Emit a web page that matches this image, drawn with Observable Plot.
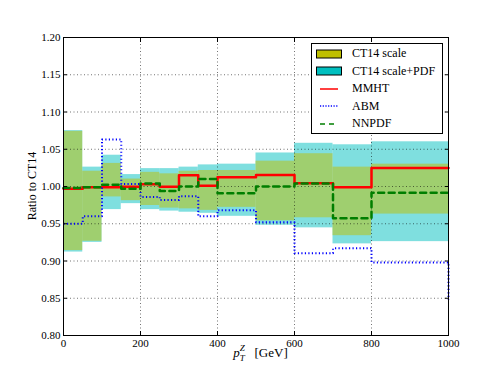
<!DOCTYPE html>
<html><head><meta charset="utf-8">
<script src="https://cdn.jsdelivr.net/npm/d3@7"></script>
<script src="https://cdn.jsdelivr.net/npm/@observablehq/plot@0.6"></script>
<style>
body{margin:0;background:#fff;}
#wrap{position:relative;width:498px;height:374px;font-family:"Liberation Serif","DejaVu Serif",serif;}
#wrap svg text, #wrap svg tspan{font-family:"Liberation Serif","DejaVu Serif",serif !important;}
#legend{position:absolute;left:311px;top:43px;width:132px;height:91px;border:1px solid #000;background:#fff;box-sizing:border-box;padding-top:1px;}
.row{height:17.5px;display:flex;align-items:center;font-size:12px;color:#000;}
.sw{width:26px;height:10px;margin-left:4px;margin-right:10px;display:flex;align-items:center;justify-content:center;}
</style></head>
<body>
<div id="wrap"><div id="legend"></div></div>
<script>
// bin edges (GeV)
const edges = [0,50,100,150,200,250,300,350,400,500,600,700,800,1000];
// CT14 scale band
const scaleLo = [0.914,0.9265,0.986,0.981,0.9745,0.971,0.970,0.968,0.972,0.954,0.958,0.934,0.963];
const scaleHi = [1.074,1.0205,1.031,1.010,1.019,1.017,1.0205,1.0215,1.0215,1.034,1.044,1.026,1.030];
// CT14 scale+PDF band
const pdfLo = [0.912,0.925,0.969,0.977,0.969,0.967,0.9655,0.964,0.960,0.948,0.9445,0.923,0.926];
const pdfHi = [1.075,1.026,1.042,1.016,1.024,1.024,1.026,1.029,1.030,1.045,1.058,1.056,1.060];
// ratios (one value per bin)
const mmht  = [0.997,0.999,0.999,0.9995,1.003,0.9995,1.015,1.001,1.0125,1.0155,1.0045,0.999,1.025];
const abm   = [0.950,0.960,1.063,1.0035,0.986,0.982,0.987,0.960,0.968,0.952,0.9105,0.917,0.898];
const nnpdf = [0.998,0.999,1.0025,0.997,1.004,0.994,1.000,1.010,0.991,1.000,1.004,0.9575,0.9915];
// value drawn at the last edge (x = 1000)
const mmhtEnd = 1.025, abmEnd = 0.848, nnpdfEnd = 0.9915;
// ticks
const xTicks = [0,200,400,600,800,1000];
const yTicks = [0.80,0.85,0.90,0.95,1.00,1.05,1.10,1.15,1.20];
const yGrid  = [0.85,0.90,0.95,1.00,1.05,1.10,1.15];
const xGrid  = [200,400,600,800];

const bins = scaleLo.map((_, i) => ({x1: edges[i], x2: edges[i+1], sLo: scaleLo[i], sHi: scaleHi[i], pLo: pdfLo[i], pHi: pdfHi[i]}));
const steps = (vals, end) => edges.map((e, i) => ({x: e, y: i < vals.length ? vals[i] : end}));

const plot = Plot.plot({
  width: 498, height: 374,
  marginLeft: 63, marginRight: 50, marginTop: 37, marginBottom: 39,
  x: {domain: [0, 1000]},
  y: {domain: [0.8, 1.2]},
  style: {fontFamily: '"Liberation Serif", serif', fontSize: "11px", color: "#000", background: "#fff"},
  marks: [
    Plot.rect(bins, {x1: "x1", x2: "x2", y1: "pLo", y2: "pHi", fill: "#00bfbf", fillOpacity: 0.5}),
    Plot.rect(bins, {x1: "x1", x2: "x2", y1: "sLo", y2: "sHi", fill: "#bfbf00", fillOpacity: 0.5}),
    Plot.gridX({ticks: xGrid, stroke: "#000", strokeOpacity: 0.55, strokeDasharray: "1,2.5"}),
    Plot.gridY({ticks: yGrid, stroke: "#000", strokeOpacity: 0.55, strokeDasharray: "1,2.5"}),
    Plot.line(steps(mmht, mmhtEnd), {x: "x", y: "y", curve: "step-after", stroke: "#ff0000", strokeWidth: 2.5}),
    Plot.line(steps(abm, abmEnd), {x: "x", y: "y", curve: "step-after", stroke: "#0000ff", strokeWidth: 2, strokeDasharray: "1.2,2.3", strokeLinecap: "butt"}),
    Plot.line(steps(nnpdf, nnpdfEnd), {x: "x", y: "y", curve: "step-after", stroke: "#007f00", strokeWidth: 2.5, strokeDasharray: "6,4.5"}),
    Plot.axisX({ticks: xTicks, tickSize: -4, tickPadding: 8, tickFormat: d3.format("d"), label: null, fontSize: 11}),
    Plot.axisX({anchor: "top", ticks: xTicks, tickSize: -4, tickFormat: () => "", label: null}),
    Plot.axisY({ticks: yTicks, tickSize: -4, tickPadding: 7, tickFormat: d3.format(".2f"), label: null, fontSize: 11}),
    Plot.axisY({anchor: "right", ticks: yTicks, tickSize: -4, tickFormat: () => "", label: null}),
    Plot.frame({stroke: "#000", strokeWidth: 1})
  ]
});
plot.setAttribute("font-family", '"Liberation Serif", serif');
document.getElementById("wrap").prepend(plot);

// axis labels
const svg = d3.select(plot);
const xr = plot.scale("x").range, yr = plot.scale("y").range;
const cx = (xr[0] + xr[1]) / 2, cy = (yr[0] + yr[1]) / 2;
const xl = svg.append("text").attr("x", cx).attr("y", 357).attr("text-anchor", "middle")
  .attr("font-size", 13).attr("fill", "#000").attr("dx", 5);
xl.append("tspan").attr("font-style", "italic").text("p");
xl.append("tspan").attr("font-style", "italic").attr("font-size", 9).attr("dy", 3.5).text("T");
xl.append("tspan").attr("font-style", "italic").attr("font-size", 9).attr("dx", -5).attr("dy", -10).text("Z");
xl.append("tspan").attr("dy", 6.5).text("\u00a0\u00a0\u00a0[GeV]");
svg.append("text").attr("transform", `translate(36,${cy}) rotate(-90)`).attr("text-anchor", "middle")
  .attr("font-size", 12).attr("fill", "#000").text("Ratio to CT14");

// legend
const legendItems = [
  {label: "CT14 scale", type: "patch", color: "#bfbf00"},
  {label: "CT14 scale+PDF", type: "patch", color: "#00bfbf"},
  {label: "MMHT", type: "line", color: "#ff0000", dash: null},
  {label: "ABM", type: "line", color: "#0000ff", dash: "1.2,1.5"},
  {label: "NNPDF", type: "line", color: "#007f00", dash: "5,4"}
];
const lg = d3.select("#legend");
legendItems.forEach(it => {
  const row = lg.append("div").attr("class", "row");
  const s = row.append("div").attr("class", "sw").append("svg").attr("width", 26).attr("height", 10);
  if (it.type === "patch") {
    s.append("rect").attr("x", 0.5).attr("y", 1).attr("width", 25).attr("height", 8).attr("fill", it.color).attr("stroke", "#000").attr("stroke-width", 1);
  } else {
    s.append("line").attr("x1", 4).attr("x2", 22).attr("y1", 5).attr("y2", 5).attr("stroke", it.color).attr("stroke-width", 1.5).attr("stroke-dasharray", it.dash);
  }
  row.append("span").text(it.label);
});
</script>
</body></html>
